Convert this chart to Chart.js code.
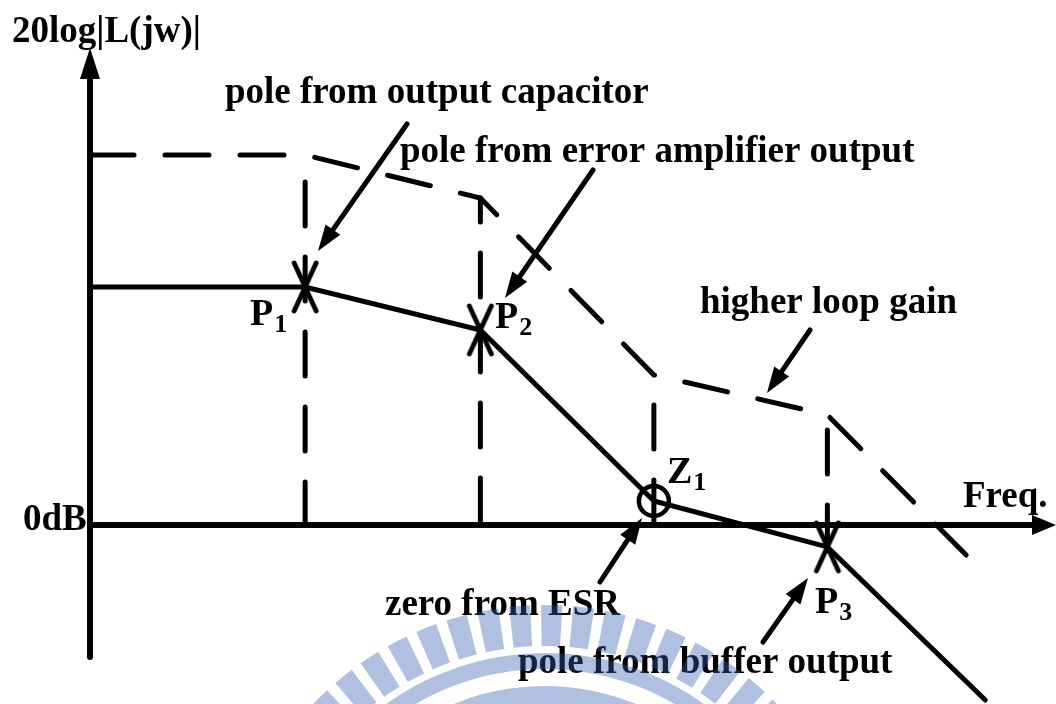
<!DOCTYPE html>
<html><head><meta charset="utf-8">
<script src="https://cdn.jsdelivr.net/npm/chart.js@4.4.1/dist/chart.umd.min.js"></script>
<style>html,body{margin:0;padding:0;background:#fff;overflow:hidden}#wrap{width:1056px;height:704px;position:relative}</style>
</head><body><div id="wrap"><canvas id="c" width="1056" height="704"></canvas></div>
<script>
// ---- data (x in decades of frequency, y in dB) ----
const breakNames = ['P1', 'P2', 'Z1', 'P3'];
const breakFreq = [1.24, 2.25, 3.25, 4.25];
const markerGain = [110.7, 90.7, 11.2, -10.2];
const solidFreq = [0, 1.24, 2.25, 3.25, 4.25, 5.16];
const solidGain = [110.7, 110.7, 90.7, 11.2, -10.2, -81.4];
const dashFreq = [0, 1.24, 2.25, 3.25, 4.25, 5.05];
const dashGain = [172.1, 172.1, 152.1, 69.8, 51.2, -14.0];
const dropTop = [172.1, 152.1, 69.8, 51.2];
const dropBottom = [0, 0, 0, -10.2];
const axisLabels = { y: '20log|L(jw)|', zero: '0dB', x: 'Freq.' };

// ---- build datasets ----
const pts = (xs, ys) => xs.map((x, i) => ({ x: x, y: ys[i] }));
function xMarker() {
  const c = document.createElement('canvas');
  c.width = 30; c.height = 56;
  const g = c.getContext('2d');
  g.strokeStyle = '#000'; g.lineWidth = 4.8; g.lineCap = 'round';
  g.beginPath(); g.moveTo(4, 4); g.lineTo(26, 52); g.moveTo(26, 4); g.lineTo(4, 52); g.stroke();
  return c;
}
const xm = xMarker();
const dropPhase = [48, 20, 45, 60];
const datasets = [];
datasets.push({ label: 'loop gain', data: pts(solidFreq, solidGain), showLine: true, borderColor: '#000', borderWidth: 5, pointRadius: 0, tension: 0, borderCapStyle: 'round', borderJoinStyle: 'miter', order: 2 });
datasets.push({ label: 'higher loop gain', data: pts(dashFreq, dashGain), showLine: true, borderColor: '#000', borderWidth: 5, pointRadius: 0, tension: 0, borderDash: [44, 31], borderCapStyle: 'round', order: 3 });
breakFreq.forEach((f, i) => {
  datasets.push({ label: 'drop ' + breakNames[i], data: [{ x: f, y: dropTop[i] }, { x: f, y: dropBottom[i] }], showLine: true, borderColor: '#000', borderWidth: 5, pointRadius: 0, borderDash: [44, 31], borderDashOffset: dropPhase[i], borderCapStyle: 'round', order: 4 });
});
datasets.push({
  label: 'markers', data: pts(breakFreq, markerGain), showLine: false,
  pointStyle: breakNames.map(n => n[0] === 'Z' ? 'circle' : xm),
  pointRadius: 15,
  pointBorderWidth: 4.5, pointBorderColor: '#000', pointBackgroundColor: 'rgba(0,0,0,0)', order: 1
});

// ---- decorations: axes, labels, arrows, watermark ----
function arrow(ctx, x1, y1, x2, y2, len, hw) {
  const dx = x2 - x1, dy = y2 - y1, d = Math.hypot(dx, dy), ux = dx / d, uy = dy / d;
  const bx = x2 - ux * len, by = y2 - uy * len;
  ctx.beginPath(); ctx.moveTo(x1, y1); ctx.lineTo(bx + ux * 2, by + uy * 2); ctx.stroke();
  ctx.beginPath(); ctx.moveTo(x2, y2); ctx.lineTo(bx - uy * hw, by + ux * hw); ctx.lineTo(bx + uy * hw, by - ux * hw); ctx.closePath(); ctx.fill();
}
function subText(ctx, main, sub, x, y) {
  ctx.font = 'bold 38px "Liberation Serif"';
  ctx.fillText(main, x, y);
  const w = ctx.measureText(main).width;
  ctx.font = 'bold 26px "Liberation Serif"';
  ctx.fillText(sub, x + w + 1, y + 7);
}
const notes = [
  { t: 'pole from output capacitor', x: 225, y: 103, a: [407, 124, 318, 251] },
  { t: 'pole from error amplifier output', x: 400, y: 162, a: [593, 170, 505, 298] },
  { t: 'higher loop gain', x: 700, y: 313, a: [810, 330, 767, 393] },
  { t: 'zero from ESR', x: 385, y: 615, a: [600, 582, 642, 518] },
  { t: 'pole from buffer output', x: 518, y: 673, a: [763, 642, 808, 578] }
];
const deco = {
  id: 'deco',
  afterDatasetsDraw(chart) {
    const ctx = chart.ctx, xs = chart.scales.x, ys = chart.scales.y;
    const x0 = xs.getPixelForValue(0), y0 = ys.getPixelForValue(0);
    ctx.save();
    ctx.strokeStyle = '#000'; ctx.fillStyle = '#000';
    ctx.lineWidth = 6; ctx.lineCap = 'butt';
    // y axis
    ctx.beginPath(); ctx.moveTo(x0, 657); ctx.lineTo(x0, 75); ctx.stroke();
    ctx.beginPath(); ctx.moveTo(x0, 48); ctx.lineTo(x0 - 10, 79); ctx.lineTo(x0 + 10, 79); ctx.closePath(); ctx.fill();
    ctx.beginPath(); ctx.arc(x0, 657, 3, 0, Math.PI * 2); ctx.fill();
    // x axis
    ctx.beginPath(); ctx.moveTo(x0 - 3, y0); ctx.lineTo(1036, y0); ctx.stroke();
    ctx.beginPath(); ctx.moveTo(1056, y0); ctx.lineTo(1032, y0 - 10); ctx.lineTo(1032, y0 + 10); ctx.closePath(); ctx.fill();
    // arrows
    ctx.lineWidth = 5; ctx.lineCap = 'round';
    notes.forEach(n => arrow(ctx, n.a[0], n.a[1], n.a[2], n.a[3], 26, 9));
    // texts
    ctx.textBaseline = 'alphabetic'; ctx.textAlign = 'left';
    ctx.font = 'bold 37px "Liberation Serif"';
    notes.forEach(n => ctx.fillText(n.t, n.x, n.y));
    ctx.fillText(axisLabels.y, 12, 42);
    ctx.fillText(axisLabels.zero, 23, 530);
    ctx.fillText(axisLabels.x, 963, 507);
    const lp = { P1: [250, 325], P2: [495, 328], Z1: [667, 483], P3: [815, 613] };
    breakNames.forEach(n => subText(ctx, n[0], n.slice(1), lp[n][0], lp[n][1]));
    ctx.restore();
  },
  afterDraw(chart) {
    const ctx = chart.ctx, cx = 545, cy = 926;
    ctx.save();
    ctx.fillStyle = 'rgba(51,93,175,0.39)';
    for (let a = -3.05; a < -0.05; a += 0.1) {
      ctx.beginPath();
      ctx.arc(cx, cy, 321, a - 0.033, a + 0.033);
      ctx.arc(cx, cy, 280, a + 0.033, a - 0.033, true);
      ctx.closePath(); ctx.fill();
    }
    [[273, 257], [240, 222]].forEach(b => {
      ctx.beginPath();
      ctx.arc(cx, cy, b[0], -3.1, -0.04);
      ctx.arc(cx, cy, b[1], -0.04, -3.1, true);
      ctx.closePath(); ctx.fill();
    });
    ctx.restore();
  }
};

new Chart(document.getElementById('c'), {
  type: 'scatter',
  data: { datasets: datasets },
  options: {
    responsive: false, animation: false, devicePixelRatio: 1,
    layout: { padding: 0, autoPadding: false },
    plugins: { legend: { display: false }, tooltip: { enabled: false } },
    elements: { line: { fill: false } },
    datasets: { scatter: { clip: false } },
    scales: {
      x: { type: 'linear', display: false, min: -0.5187, max: 5.5677 },
      y: { type: 'linear', display: false, min: -83.26, max: 244.19 }
    }
  },
  plugins: [deco]
});
</script></body></html>
